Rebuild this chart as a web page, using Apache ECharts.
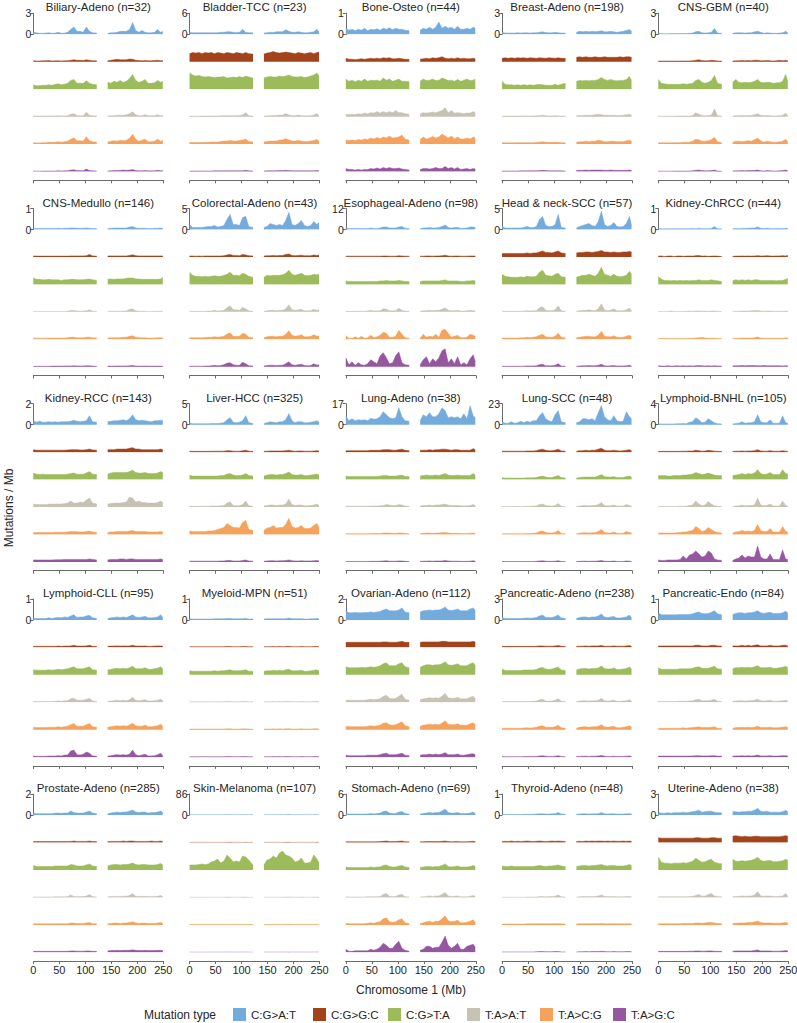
<!DOCTYPE html>
<html><head><meta charset="utf-8">
<script src="https://cdn.jsdelivr.net/npm/echarts@6/dist/echarts.min.js"></script>
<style>html,body{margin:0;padding:0;background:#fff}#c{width:797px;height:1023px}</style>
</head><body><div id="c"></div>
<script>
const MUTATION_TYPES = ['C:G>A:T','C:G>G:C','C:G>T:A','T:A>A:T','T:A>C:G','T:A>G:C'];
const COLORS = ['#74abdd','#a3431b','#9cbb5a','#c6c2b4','#f4a25c','#9457a0'];
// bin positions on chromosome 1 (Mb): p arm bins then q arm bins (centromere gap between)
const BIN_LEFT_MB = [0,6,12,18,24,30,36,42,48,54,60,66,72,78,84,90,96,102,108,114,122];
const BIN_RIGHT_MB = [143,149,155,161,167,173,179,185,191,197,203,209,215,221,227,233,239,245,249];
const X_TICKS = [0,50,100,150,200,250];
const PANEL_NAMES = ['Biliary-Adeno','Bladder-TCC','Bone-Osteo','Breast-Adeno','CNS-GBM','CNS-Medullo','Colorectal-Adeno','Esophageal-Adeno','Head & neck-SCC','Kidney-ChRCC','Kidney-RCC','Liver-HCC','Lung-Adeno','Lung-SCC','Lymphoid-BNHL','Lymphoid-CLL','Myeloid-MPN','Ovarian-Adeno','Pancreatic-Adeno','Pancreatic-Endo','Prostate-Adeno','Skin-Melanoma','Stomach-Adeno','Thyroid-Adeno','Uterine-Adeno'];
const PANEL_N = [32,23,44,198,40,146,43,98,57,44,143,325,38,48,105,95,51,112,238,84,285,107,69,48,38];
const PANEL_YMAX = [3,6,1,3,3,1,5,12,5,1,2,5,17,23,4,1,1,2,3,1,2,86,6,1,3];
// mutation rates in units of 0.01 mutations/Mb; one row per mutation type (order of MUTATION_TYPES);
// first 21 values = BIN_LEFT_MB, last 19 values = BIN_RIGHT_MB
const BILIARY_ADENO = [
[28,21,14,14,17,21,14,17,28,14,17,28,70,105,42,42,28,105,42,21,17, 14,21,21,28,42,42,42,70,168,56,28,56,28,21,21,28,70,28,42],
[14,11,11,14,14,17,11,14,14,11,14,14,21,28,21,21,17,28,21,14,14, 14,21,28,35,28,28,28,38,35,21,17,14,17,14,14,17,21,14,17],
[63,49,49,56,56,63,56,70,77,63,70,84,126,140,84,84,84,119,84,70,63, 98,84,112,98,126,98,112,154,210,126,98,112,140,84,84,91,126,98,112],
[11,8,8,10,10,11,10,11,14,11,11,14,35,42,17,14,14,63,21,14,11, 11,14,14,21,21,21,28,42,70,28,14,14,28,14,14,14,28,14,21],
[21,17,17,21,21,28,25,28,35,28,35,42,70,91,49,49,42,105,49,35,28, 28,42,49,42,56,49,56,84,140,70,42,56,70,35,35,42,70,42,56],
[7,6,6,7,7,8,7,8,11,8,10,11,21,25,14,14,11,35,14,10,8, 8,11,14,14,17,21,17,21,28,14,11,11,14,10,10,11,17,11,14]];
const BLADDER_TCC = [
[58,44,44,44,44,44,44,44,44,44,58,58,73,73,58,52,58,145,58,44,44, 35,44,58,52,73,73,73,131,87,58,58,73,58,44,44,58,73,145,58],
[232,261,247,261,232,261,247,261,232,261,247,232,261,247,232,261,247,232,261,232,218, 218,247,261,290,261,247,261,276,261,247,232,261,247,232,247,261,232,261,276],
[464,406,377,392,363,348,363,348,334,348,348,363,319,334,348,334,363,334,377,348,319, 319,348,363,348,348,377,363,377,406,363,348,348,363,334,348,377,406,464,377],
[17,15,15,15,17,17,17,20,20,20,23,23,29,29,29,29,35,44,116,23,20, 20,23,29,29,35,44,44,87,44,29,29,44,29,23,23,29,44,87,29],
[44,44,44,44,44,52,52,58,58,58,73,87,87,102,87,87,102,116,145,73,58, 58,73,87,87,87,116,116,160,116,87,87,102,87,73,73,87,102,131,87],
[15,15,15,15,15,17,17,17,20,20,23,23,23,23,23,23,23,26,35,20,17, 17,20,23,23,26,29,29,35,29,23,23,26,23,20,20,23,26,29,23]];
const BONE_OSTEO = [
[29,19,24,17,24,19,29,17,24,22,26,19,29,24,31,22,29,24,24,19,17, 19,29,24,34,24,34,58,29,38,29,34,24,38,24,24,29,24,34,29],
[17,12,12,10,12,14,12,14,17,14,17,14,19,17,19,14,14,17,14,12,12, 12,14,17,14,19,17,19,24,17,14,17,14,19,14,17,14,14,17,14],
[48,38,43,36,43,38,48,38,43,41,43,38,53,43,48,38,43,48,38,38,36, 38,48,41,43,48,41,43,53,48,41,43,38,46,38,43,48,41,43,48],
[10,10,12,10,14,12,17,14,19,17,24,17,24,19,24,19,29,19,19,14,12, 14,19,17,19,22,19,24,29,43,19,29,17,19,17,14,17,17,24,19],
[19,17,19,17,22,19,24,22,29,24,31,26,34,29,38,29,31,34,43,24,19, 22,34,24,29,36,29,34,48,38,29,38,26,34,24,24,29,24,34,29],
[14,10,10,7,10,7,10,10,14,12,17,12,19,14,19,14,14,17,12,10,7, 10,14,14,12,14,19,14,14,24,14,19,12,19,10,12,14,10,14,12]];
const BREAST_ADENO = [
[28,18,18,18,18,21,18,21,21,18,21,21,28,35,25,21,21,28,21,18,17, 28,42,35,42,35,42,35,42,49,35,35,42,35,28,35,42,56,70,42],
[49,56,49,56,49,56,53,56,49,56,53,49,56,53,49,56,53,49,56,49,49, 63,70,63,70,63,63,70,63,63,70,63,63,63,63,70,63,70,70,63],
[112,70,63,63,56,63,56,63,56,63,56,63,70,63,56,56,56,70,56,70,84, 112,126,119,126,119,126,126,140,168,140,126,140,126,119,126,126,140,182,126],
[8,8,8,8,8,10,10,10,11,11,11,14,14,21,14,11,11,14,11,10,8, 14,17,17,21,21,21,28,35,28,21,21,21,21,17,17,21,28,35,21],
[18,18,18,18,18,21,21,21,21,21,21,25,28,35,28,25,25,28,25,21,18, 28,35,35,42,35,42,42,56,49,35,35,42,42,35,35,35,49,56,42],
[8,8,8,8,8,8,10,10,11,11,11,11,14,17,14,11,11,11,11,10,8, 17,18,18,21,18,21,21,21,21,18,18,21,18,17,17,18,18,21,18]];
const CNS_GBM = [
[14,10,8,8,10,10,10,11,11,11,14,17,35,42,21,17,21,28,84,17,14, 14,21,21,21,17,21,21,35,42,28,14,21,17,14,14,17,21,42,21],
[11,10,10,10,10,10,10,11,11,11,11,14,21,28,17,14,14,21,17,11,11, 11,14,14,17,14,17,14,21,21,14,14,17,14,11,14,21,14,21,14],
[140,84,77,70,70,70,70,70,77,70,77,84,126,140,98,84,98,126,196,84,70, 98,140,98,91,98,91,98,112,140,98,91,98,98,84,91,91,112,210,112],
[7,7,7,7,7,7,8,8,10,10,11,17,56,35,17,14,17,21,112,14,8, 10,14,14,17,14,17,17,28,42,21,14,17,14,11,11,14,21,49,14],
[21,18,18,18,18,21,21,21,25,25,28,42,70,63,42,42,49,63,98,35,21, 28,42,42,35,42,49,42,63,84,49,28,42,35,28,28,35,42,70,35],
[7,6,6,6,6,7,7,7,7,7,8,11,17,21,14,11,11,14,21,8,7, 8,11,11,14,11,14,14,17,21,11,8,14,11,8,8,11,14,21,11]];
const CNS_MEDULLO = [
[6,5,5,5,5,5,5,5,6,5,6,6,7,7,6,6,6,7,6,5,5, 5,6,7,7,7,7,7,12,14,7,6,6,6,5,5,6,6,7,6],
[5,4,4,4,4,4,4,4,4,4,4,4,5,5,5,5,5,6,12,5,4, 5,5,5,5,5,5,5,7,10,6,5,5,5,5,5,5,5,5,5],
[31,24,24,22,22,24,22,22,22,19,22,22,24,24,22,22,22,24,26,22,19, 24,26,24,26,26,26,29,31,31,26,26,24,24,24,24,24,24,26,34],
[2,2,2,2,2,2,2,2,2,2,2,3,7,6,4,3,4,5,10,3,2, 2,3,3,3,3,4,4,12,14,5,3,3,3,2,2,3,3,3,3],
[6,5,5,5,5,6,6,6,6,6,6,7,10,10,7,7,7,10,10,7,6, 6,7,7,7,7,10,10,14,17,10,7,7,7,6,6,6,7,7,7],
[2,2,2,2,2,2,3,3,3,3,4,4,4,5,4,4,4,5,5,3,2, 3,3,3,4,4,4,4,5,6,4,3,3,4,3,3,3,3,3,3]];
const COLORECTAL_ADENO = [
[120,48,48,48,48,60,72,72,96,60,72,96,240,360,120,120,96,288,312,72,48, 48,72,144,120,96,120,96,216,408,120,96,144,216,96,72,96,192,120,168],
[24,24,19,24,19,24,24,24,24,24,24,29,48,60,36,36,29,60,48,29,24, 24,29,29,36,29,36,36,60,72,36,29,36,43,29,29,29,48,36,48],
[288,216,192,192,180,192,180,192,204,192,192,216,240,288,216,216,204,264,240,192,168, 168,216,204,216,216,216,228,264,336,240,216,240,264,216,204,216,240,228,240],
[14,12,12,12,12,14,19,19,36,19,24,36,96,144,48,48,36,108,72,24,14, 14,24,36,36,24,36,36,72,168,48,36,48,60,24,24,29,60,36,48],
[36,36,36,36,36,43,48,48,60,48,60,72,120,156,72,72,72,144,120,48,36, 36,60,72,72,60,72,72,120,204,96,72,84,108,60,60,72,108,72,84],
[17,14,14,14,14,17,19,24,36,24,29,48,84,96,48,36,36,108,72,24,17, 17,29,36,36,29,36,36,72,120,48,36,48,60,29,24,29,72,36,48]];
const ESOPHAGEAL_ADENO = [
[86,57,57,57,57,57,57,57,86,57,57,86,143,143,86,86,86,143,171,68,57, 57,86,86,114,86,86,114,171,257,114,86,114,114,68,68,86,143,143,114],
[46,46,46,46,46,46,46,46,46,46,46,46,57,57,46,46,46,68,57,46,46, 46,46,57,57,46,57,57,68,103,57,46,57,57,46,46,46,57,57,57],
[200,171,171,171,171,171,171,171,171,171,171,200,200,228,200,200,200,228,200,171,171, 171,200,200,200,200,200,200,228,257,200,200,200,200,171,171,200,200,228,200],
[34,29,29,29,29,34,34,46,86,46,57,68,171,143,68,57,68,200,86,46,34, 34,57,68,86,68,86,86,143,228,86,57,68,86,46,46,57,86,68,57],
[200,57,57,143,57,171,57,86,228,86,143,228,400,342,114,114,171,513,285,86,57, 68,285,114,171,143,285,114,513,570,342,114,171,228,86,86,114,285,228,171],
[513,114,285,86,228,114,86,171,400,285,171,627,798,513,171,228,627,855,228,114,86, 114,400,570,171,456,285,513,912,1026,228,456,171,570,114,228,114,456,684,285]];
const HEAD_NECK_SCC = [
[72,36,36,36,36,36,36,48,72,48,48,72,240,312,96,72,72,120,360,48,36, 36,72,96,120,144,96,72,192,432,120,72,96,168,72,60,72,144,312,96],
[84,84,84,84,84,84,84,84,96,84,96,96,120,144,108,108,96,120,144,96,84, 96,108,108,120,120,108,120,132,156,120,120,108,120,108,108,120,120,132,120],
[240,192,180,168,168,168,180,168,192,180,180,192,288,336,216,204,192,240,264,180,168, 168,192,216,216,240,216,192,264,408,240,216,192,240,192,180,192,216,312,240],
[17,14,14,14,14,14,14,19,29,19,24,29,96,120,36,29,29,48,144,24,17, 17,29,36,36,48,36,29,72,192,48,29,36,72,24,24,29,48,84,36],
[29,29,29,29,29,29,36,36,48,36,48,60,96,120,60,48,48,72,144,48,29, 36,48,60,72,72,60,60,96,192,72,60,60,84,48,43,48,72,96,60],
[12,12,12,12,12,12,14,14,19,19,19,24,48,60,24,24,24,36,72,19,14, 14,19,24,24,29,24,24,36,60,24,19,24,29,19,19,19,24,36,19]];
const KIDNEY_CHRCC = [
[5,3,3,4,3,4,3,4,4,3,4,5,4,6,4,4,4,5,14,4,3, 3,5,4,5,5,6,7,7,12,6,5,6,5,4,5,5,4,6,6],
[4,5,2,4,5,2,4,5,3,4,5,4,6,7,4,5,3,4,5,4,2, 3,4,4,5,4,5,4,5,6,5,5,6,5,4,5,5,6,5,7],
[38,24,19,19,17,19,17,19,17,19,17,19,19,22,19,19,19,22,19,17,14, 17,22,19,22,19,22,19,22,22,19,19,19,19,19,17,19,19,24,29],
[2,2,2,2,4,2,2,2,2,3,4,3,4,4,3,4,3,4,4,3,2, 2,3,3,4,4,4,5,6,7,4,3,4,4,3,3,3,3,4,4],
[4,4,4,4,4,4,4,4,4,4,5,5,6,7,9,6,5,5,5,4,4, 4,5,5,6,6,6,6,7,11,6,5,5,5,5,5,5,5,6,6],
[5,4,3,5,3,4,5,4,5,4,5,4,5,6,5,4,5,4,5,4,3, 4,5,5,6,5,6,6,6,5,5,6,5,5,5,5,5,4,5,5]];
const KIDNEY_RCC = [
[38,24,33,24,24,29,24,29,24,29,29,29,33,43,33,29,33,38,86,29,24, 29,33,38,38,43,48,38,57,95,48,38,43,38,33,29,38,38,43,38],
[24,19,19,19,19,19,19,19,19,19,19,21,24,24,24,21,21,24,29,21,19, 24,24,24,29,29,29,29,38,43,29,29,24,24,24,24,24,24,29,24],
[62,52,48,52,48,48,48,48,48,48,48,52,57,62,52,52,52,62,76,52,48, 52,62,67,67,67,67,67,76,90,67,62,62,67,57,57,57,62,76,67],
[29,24,24,24,24,29,29,29,29,29,33,38,57,38,38,48,43,67,86,38,29, 29,33,38,38,38,43,48,95,86,48,57,43,43,38,38,38,43,57,43],
[19,19,19,19,19,19,19,21,21,21,21,24,29,29,27,24,24,29,33,24,19, 19,24,24,29,29,29,29,33,38,29,29,29,29,24,24,24,24,29,24],
[19,19,19,19,19,19,19,21,21,21,24,24,24,24,24,24,24,24,29,24,19, 19,24,24,24,29,29,24,29,29,24,24,24,24,24,24,24,24,29,24]];
const LIVER_HCC = [
[48,24,24,24,24,24,24,29,29,29,36,48,120,168,60,48,60,96,216,48,29, 29,48,72,60,48,72,72,120,264,96,48,72,72,48,48,60,72,96,60],
[24,19,19,19,19,19,19,19,24,24,24,24,36,36,24,24,24,36,48,24,19, 19,24,29,29,29,29,29,36,48,29,24,29,29,24,24,24,29,36,29],
[108,84,84,84,84,84,84,84,84,84,96,96,132,144,108,96,96,108,144,96,84, 84,108,120,120,108,120,120,144,180,120,108,108,120,96,96,108,120,132,108],
[24,19,19,19,19,19,19,24,24,24,29,36,96,120,36,29,36,60,144,29,19, 24,36,48,48,36,48,48,72,192,60,36,48,48,29,29,36,48,72,36],
[84,72,72,72,72,72,84,84,96,120,144,168,264,216,168,168,156,288,336,120,96, 96,156,168,216,156,168,168,240,384,192,156,168,216,144,144,156,216,264,168],
[19,19,19,19,19,19,19,19,19,19,24,24,36,36,24,24,24,36,48,24,19, 19,24,29,29,24,29,29,36,48,29,24,24,29,24,24,24,29,36,24]];
const LUNG_ADENO = [
[729,324,486,324,405,365,405,324,527,446,486,648,1053,810,567,486,567,1377,648,324,284, 324,810,648,972,648,648,891,1377,1134,567,648,567,648,486,891,486,1539,729,567],
[122,122,122,122,122,122,122,122,146,146,146,162,203,203,203,162,162,203,243,146,122, 146,162,162,203,162,203,203,243,243,203,162,203,203,162,162,162,162,284,203],
[284,243,243,243,243,243,243,243,243,243,243,284,324,324,284,284,284,324,365,243,243, 284,324,365,324,324,365,324,405,486,365,324,324,365,324,324,324,324,486,365],
[81,65,65,65,65,65,65,65,81,81,81,97,122,203,162,122,122,203,162,81,65, 81,122,122,162,122,162,162,203,243,162,122,122,122,97,97,97,122,203,122],
[81,65,65,65,65,65,65,65,81,81,81,81,122,122,122,97,97,122,122,81,65, 81,97,122,122,97,122,122,146,162,122,97,97,97,81,81,81,97,122,81],
[41,41,41,41,41,41,41,41,49,49,49,65,81,97,65,65,65,81,81,49,41, 49,65,65,81,65,81,81,81,122,81,65,65,65,49,49,49,65,97,65]];
const LUNG_SCC = [
[330,165,165,330,165,220,385,220,385,275,440,440,990,1320,660,440,330,1100,1540,330,220, 220,330,660,660,550,660,440,1320,2090,880,550,440,990,440,330,385,1430,880,660],
[110,110,110,110,110,110,110,110,132,132,132,165,275,330,198,165,165,220,330,132,110, 110,165,165,220,165,220,220,330,440,220,165,165,220,165,132,165,220,275,165],
[198,165,165,165,165,165,165,165,198,198,198,220,330,385,275,220,220,330,440,220,165, 165,220,275,275,275,275,275,385,550,330,275,275,330,220,220,220,330,385,275],
[66,55,55,55,55,66,66,66,88,88,110,110,275,330,165,132,110,165,385,88,66, 66,110,165,165,132,165,165,275,495,165,132,132,220,110,110,110,275,165,110],
[88,88,88,88,88,88,88,88,110,110,132,165,330,385,220,165,165,220,440,110,88, 88,132,198,198,165,198,198,330,550,220,165,165,275,132,132,132,330,220,165],
[44,44,44,44,44,44,44,44,55,55,55,66,110,132,88,66,66,88,132,55,44, 44,66,88,88,66,88,88,110,165,88,66,66,110,55,55,55,110,88,66]];
const LYMPHOID_BNHL = [
[19,15,15,15,15,15,19,19,23,19,48,57,133,95,38,48,114,76,38,19,15, 15,23,29,57,29,38,38,57,190,57,38,38,95,29,29,29,171,38,29],
[15,15,15,15,15,15,15,15,19,19,23,23,38,29,19,23,34,29,19,15,15, 15,19,19,23,19,23,23,29,48,23,19,19,29,19,19,19,29,19,19],
[76,76,76,67,67,76,76,76,86,86,95,105,133,114,95,105,124,105,86,76,76, 76,86,95,114,95,114,105,124,190,114,95,105,133,95,95,95,190,114,105],
[11,11,11,11,11,11,11,15,15,15,29,38,114,57,29,38,105,57,23,15,11, 11,19,23,38,23,29,29,38,171,38,23,29,57,19,19,19,114,29,19],
[29,29,29,29,29,29,34,38,48,48,67,76,152,114,57,76,133,95,57,38,29, 29,48,57,76,57,67,57,76,190,76,57,57,114,48,48,48,152,57,48],
[38,29,29,38,38,38,38,48,114,57,133,152,209,152,95,114,209,171,57,38,29, 29,57,76,133,76,114,95,95,304,95,57,57,152,48,48,48,228,57,48]];
const LYMPHOID_CLL = [
[7,7,7,7,7,10,7,10,12,10,14,12,19,24,12,14,14,19,22,10,7, 7,10,12,14,12,14,12,17,24,14,12,14,17,10,10,12,14,24,12],
[5,5,5,5,5,5,5,5,6,5,6,6,7,10,6,6,6,7,10,5,5, 5,6,6,7,6,7,6,7,10,6,6,6,7,5,5,6,7,7,6],
[24,22,22,22,22,24,22,24,26,24,26,29,34,38,29,29,29,34,38,24,22, 22,26,29,31,29,31,29,34,41,29,29,29,34,26,26,29,31,38,29],
[4,4,4,4,4,4,4,5,6,5,7,7,17,19,10,10,10,14,19,6,4, 4,6,7,10,7,10,7,12,24,10,7,10,12,6,6,7,10,14,7],
[12,10,10,10,10,12,12,12,14,12,14,17,24,29,17,17,17,24,29,14,12, 12,14,17,19,17,19,17,22,31,19,17,17,22,14,14,17,19,26,17],
[5,4,4,4,4,5,5,5,7,6,10,10,29,34,12,10,14,24,19,6,5, 5,7,10,12,10,12,10,14,34,12,7,10,14,6,6,7,12,19,7]];
const MYELOID_MPN = [
[5,4,4,4,4,4,4,4,5,5,5,5,7,7,5,5,5,6,7,4,4, 4,5,5,6,5,6,5,6,9,6,5,5,6,4,4,5,6,7,5],
[3,3,3,3,3,3,3,3,3,3,3,3,4,4,3,3,3,4,4,3,3, 3,3,3,4,3,4,3,4,5,3,3,3,4,3,3,3,4,4,3],
[19,17,17,17,17,17,17,17,19,17,19,19,22,24,19,19,19,22,24,17,17, 17,19,19,22,19,22,19,24,26,19,19,19,22,17,17,19,22,24,19],
[2,2,2,2,2,2,2,2,2,2,2,2,3,3,2,2,2,3,3,2,2, 2,2,2,3,2,3,2,3,4,2,2,2,3,2,2,2,3,3,2],
[3,3,3,3,3,3,3,3,3,3,3,3,4,4,3,3,3,4,4,3,3, 3,3,3,4,3,4,3,4,5,3,3,3,4,3,3,3,4,4,3],
[2,2,2,2,2,2,2,2,2,2,2,2,3,3,2,2,2,3,3,2,2, 2,2,2,3,2,3,2,3,3,2,2,2,3,2,2,2,3,3,2]];
const OVARIAN_ADENO = [
[86,67,67,71,67,67,71,71,76,71,76,81,95,105,86,86,86,95,114,76,67, 76,86,90,95,90,95,95,105,124,95,90,95,105,86,86,86,105,114,90],
[48,48,48,48,48,48,48,48,48,48,48,48,52,52,48,48,48,52,57,48,48, 48,52,52,52,52,52,52,57,57,52,52,52,52,52,52,52,52,57,52],
[76,67,67,67,67,71,67,71,76,71,76,86,105,114,86,86,86,105,114,76,67, 71,86,95,95,90,95,95,105,124,95,90,95,105,86,86,86,105,114,90],
[19,19,19,19,19,19,19,24,29,24,29,33,57,67,38,33,38,57,76,29,19, 24,33,38,43,38,43,38,57,86,43,38,38,48,33,33,33,48,57,38],
[33,29,29,29,29,29,29,33,38,33,38,43,62,67,48,43,48,62,76,38,29, 33,43,48,52,48,52,48,62,86,52,48,48,57,43,43,43,57,67,48],
[19,14,14,14,14,14,14,19,19,19,19,24,33,38,24,24,24,29,38,19,14, 19,24,24,29,24,29,24,29,43,24,24,24,29,19,19,24,29,33,24]];
const PANCREATIC_ADENO = [
[35,21,21,21,21,21,21,25,28,25,28,35,56,70,35,35,35,49,70,28,21, 21,35,42,42,35,42,42,56,84,42,35,42,49,28,28,35,42,70,35],
[14,14,14,14,14,14,14,14,14,14,14,17,21,21,17,17,17,21,25,14,14, 14,17,17,21,17,21,21,21,28,17,17,17,21,17,17,17,21,25,17],
[84,63,63,63,63,63,63,70,70,70,70,77,98,105,84,77,84,98,112,70,63, 70,84,91,91,84,91,91,98,126,91,84,84,98,77,77,84,91,112,84],
[11,10,10,10,10,10,10,11,11,11,14,17,35,42,17,17,17,28,49,14,10, 11,17,21,21,17,21,21,28,56,21,17,21,28,14,14,17,21,35,17],
[21,21,21,21,21,21,21,25,28,25,28,35,49,56,35,35,35,42,63,28,21, 21,35,42,42,35,42,42,49,70,42,35,42,49,28,28,35,42,56,35],
[8,7,7,7,7,7,7,8,8,8,11,11,17,21,14,11,11,14,21,8,7, 8,11,14,14,11,14,14,17,25,14,11,11,14,8,8,11,14,17,11]];
const PANCREATIC_ENDO = [
[34,24,24,24,24,24,24,26,26,26,26,29,34,38,31,29,31,36,43,29,24, 26,31,34,34,31,34,34,38,43,34,31,34,36,31,31,31,34,41,34],
[7,7,7,7,7,7,7,7,7,7,7,7,10,10,7,7,7,10,10,7,7, 7,7,7,10,7,10,7,10,12,7,7,7,10,7,7,7,10,10,7],
[34,26,26,26,26,26,26,29,29,29,29,31,36,38,31,31,31,36,41,29,26, 29,34,34,36,34,36,34,38,43,34,34,34,36,31,31,34,36,41,34],
[5,4,4,4,4,4,4,5,5,5,6,7,12,14,7,7,7,10,14,5,4, 5,6,7,7,6,7,7,10,14,7,6,7,10,5,5,6,7,10,6],
[7,7,7,7,7,7,7,7,9,7,9,10,12,14,10,10,10,12,14,7,7, 7,10,10,12,10,12,10,12,17,10,10,10,12,9,9,10,12,14,10],
[5,5,5,5,5,5,5,5,5,5,5,6,7,7,6,6,6,7,7,5,5, 5,6,6,7,6,7,6,7,10,6,6,6,7,5,5,6,7,7,6]];
const PROSTATE_ADENO = [
[19,14,14,14,14,14,14,19,19,17,19,19,38,24,19,19,19,29,38,19,14, 14,19,24,29,24,29,29,38,48,29,24,29,29,19,24,24,29,38,24],
[10,10,10,10,10,10,10,10,10,10,10,10,11,14,11,11,11,11,14,10,10, 10,11,11,11,11,14,11,14,14,11,11,11,11,11,14,11,11,14,11],
[43,33,33,33,33,33,33,38,38,38,38,38,52,48,38,38,38,48,57,38,33, 38,48,52,52,48,52,52,57,67,52,48,52,52,48,48,48,52,62,48],
[5,5,5,5,5,5,5,6,6,6,6,8,24,10,8,8,8,14,29,8,5, 5,8,10,11,10,11,11,19,38,11,10,11,11,8,10,10,11,19,10],
[10,10,10,10,10,10,10,10,11,11,11,11,19,17,14,14,14,19,24,11,10, 10,14,17,17,14,17,19,24,29,19,14,17,17,14,14,14,17,24,14],
[10,10,10,10,10,10,10,10,10,10,10,11,14,14,11,11,11,14,14,10,10, 14,17,17,19,17,19,19,19,24,19,17,17,19,17,17,17,19,19,17]];
const SKIN_MELANOMA = [
[120,100,100,100,100,100,100,110,120,110,120,120,150,160,120,120,120,150,160,110,100, 100,120,130,140,130,140,140,160,200,140,130,130,150,120,120,120,150,160,130],
[60,60,60,60,60,60,60,60,60,60,60,60,70,80,60,60,60,70,80,60,60, 60,60,70,70,60,70,70,80,90,70,60,70,70,60,60,60,70,80,60],
[2050,2050,2050,2255,2460,2255,2460,3280,3690,4510,2870,3690,6150,4920,3280,3690,3280,5740,5330,4100,2050, 2050,4100,4510,5740,4920,6970,7790,6150,5740,4920,3280,3690,4920,2870,2870,3280,6150,4510,2870],
[100,90,90,90,90,90,90,100,110,100,110,110,140,150,110,110,110,140,150,100,90, 90,110,120,130,120,130,130,150,180,130,120,120,140,110,110,110,140,150,120],
[140,130,130,130,130,130,130,140,150,140,150,150,180,190,150,150,150,180,190,140,130, 130,150,160,170,160,170,170,190,220,170,160,160,180,150,150,150,180,190,160],
[70,60,60,60,60,60,60,70,70,70,70,70,90,90,70,70,70,90,90,70,60, 60,70,80,80,70,80,80,90,100,80,70,80,80,70,70,70,80,90,70]];
const STOMACH_ADENO = [
[44,29,29,29,29,29,29,35,44,35,44,58,102,116,58,44,44,87,102,44,29, 29,44,58,73,58,73,73,116,174,73,58,58,73,44,44,44,58,87,44],
[23,23,23,23,23,23,23,23,23,23,23,29,35,44,29,29,29,35,44,23,23, 23,23,29,29,29,29,29,35,44,29,23,29,29,23,23,23,29,35,29],
[87,73,73,73,73,73,73,73,87,73,87,87,131,145,102,87,87,116,131,87,73, 73,87,102,102,87,102,102,131,174,102,87,102,116,87,87,87,102,131,102],
[17,15,15,15,15,15,15,17,23,17,23,29,87,116,35,29,29,73,87,23,15, 15,23,29,44,29,44,44,87,145,44,29,35,44,23,23,23,35,58,29],
[44,35,35,35,35,35,35,44,58,44,73,87,174,203,87,73,87,145,174,58,35, 35,58,87,102,73,102,102,174,261,116,87,102,131,58,58,73,102,145,73],
[87,29,29,44,44,44,44,44,87,58,87,145,261,203,116,116,232,319,116,58,29, 58,87,174,174,116,145,145,290,464,203,116,174,261,87,87,174,203,232,145]];
const THYROID_ADENO = [
[5,3,3,3,3,3,3,4,4,4,4,5,6,6,5,5,6,7,12,5,4, 4,5,6,6,5,6,6,7,12,6,5,6,6,5,5,5,6,7,6],
[5,6,5,7,5,6,5,6,7,6,5,6,7,6,5,6,7,6,7,6,5, 5,6,5,7,6,7,6,7,7,6,7,6,7,6,6,7,6,7,6],
[19,17,17,19,17,17,17,17,17,17,17,19,22,19,17,19,19,22,24,19,17, 17,19,22,22,19,22,22,24,26,22,19,22,22,19,19,19,22,26,22],
[1,1,1,1,1,1,1,1,2,2,2,2,4,4,3,4,4,6,12,3,2, 2,3,4,4,4,5,5,7,12,5,4,4,4,3,3,3,4,5,3],
[4,4,4,4,4,4,4,4,5,5,5,5,6,6,5,5,5,6,6,5,4, 4,5,5,6,5,6,6,6,7,6,5,5,6,5,5,5,5,6,5],
[2,2,2,2,2,2,2,2,2,2,2,3,4,4,3,3,3,4,4,2,2, 2,3,3,4,3,4,4,4,5,4,3,3,4,3,3,3,4,4,3]];
const UTERINE_ADENO = [
[42,28,28,35,28,35,35,35,42,35,42,49,56,70,42,49,56,56,42,35,35, 49,49,42,49,49,56,56,70,98,56,49,56,42,42,42,42,49,70,49],
[70,63,63,63,63,63,63,63,63,63,63,63,70,70,63,63,63,70,70,63,63, 91,98,91,84,91,84,84,91,91,84,84,84,84,84,84,84,91,98,91],
[182,112,98,98,91,98,98,98,105,98,112,126,168,140,112,119,140,154,112,98,91, 154,126,126,133,126,133,140,154,182,140,126,133,140,119,119,126,133,154,140],
[11,10,10,10,10,10,10,11,11,11,14,17,28,42,17,21,42,56,21,14,10, 11,14,17,21,17,21,21,35,84,21,17,21,21,14,14,17,21,56,17],
[17,17,17,17,17,17,17,17,21,21,21,21,28,28,25,28,35,35,28,21,17, 21,25,28,28,28,35,35,42,56,35,28,28,28,25,25,25,28,35,28],
[14,14,14,14,14,14,14,14,14,14,17,17,21,21,17,17,21,21,17,14,14, 17,21,21,21,21,21,21,28,35,21,21,21,21,17,17,17,21,25,21]];

const PANELS = [BILIARY_ADENO,BLADDER_TCC,BONE_OSTEO,BREAST_ADENO,CNS_GBM,CNS_MEDULLO,COLORECTAL_ADENO,ESOPHAGEAL_ADENO,HEAD_NECK_SCC,KIDNEY_CHRCC,KIDNEY_RCC,LIVER_HCC,LUNG_ADENO,LUNG_SCC,LYMPHOID_BNHL,LYMPHOID_CLL,MYELOID_MPN,OVARIAN_ADENO,PANCREATIC_ADENO,PANCREATIC_ENDO,PROSTATE_ADENO,SKIN_MELANOMA,STOMACH_ADENO,THYROID_ADENO,UTERINE_ADENO];

// layout
const FONT = '"Liberation Sans", Arial, Helvetica, sans-serif';
const COL_X0 = 33.3, COL_STEP = 156.25, PLOT_W = 130;
const ROW_Y0 = 34.3, ROW_STEP = 195.2, TRACK_STEP = 27.45, TRACK_H = 21, AXIS_OFFSET = 146;
const AXIS_COLOR = '#6b6b6b', TEXT_COLOR = '#262626';

const grid = [], xAxis = [], yAxis = [], series = [], graphic = [];
PANEL_NAMES.forEach((name, p) => {
  const r = Math.floor(p / 5), c = p % 5;
  const x0 = COL_X0 + c * COL_STEP;
  const base0 = ROW_Y0 + r * ROW_STEP;
  const ymax = PANEL_YMAX[p];
  graphic.push({type: 'text', x: x0 + PLOT_W / 2, y: base0 - 27, silent: true,
    style: {text: name + ' (n=' + PANEL_N[p] + ')', font: '11.5px ' + FONT, fill: TEXT_COLOR, textAlign: 'center', textVerticalAlign: 'middle', align: 'center', verticalAlign: 'middle'}});
  for (let k = 0; k < 6; k++) {
    const gi = grid.length;
    const baseY = base0 + k * TRACK_STEP;
    grid.push({left: x0, top: baseY - TRACK_H, width: PLOT_W, height: TRACK_H, containLabel: false, outerBoundsMode: 'none'});
    xAxis.push({type: 'value', gridIndex: gi, min: 0, max: 250, show: false});
    yAxis.push({type: 'value', gridIndex: gi, min: 0, max: ymax, interval: ymax, show: k === 0,
      axisLine: {show: true, lineStyle: {color: AXIS_COLOR, width: 1}},
      axisTick: {show: true, length: 3, lineStyle: {color: AXIS_COLOR}},
      axisLabel: {show: true, fontSize: 10.5, color: TEXT_COLOR, margin: 2, fontFamily: FONT},
      splitLine: {show: false}});
    const vals = PANELS[p][k];
    const nL = BIN_LEFT_MB.length;
    const left = BIN_LEFT_MB.map((mb, i) => [mb, vals[i] / 100]);
    const right = BIN_RIGHT_MB.map((mb, i) => [mb, vals[nL + i] / 100]);
    [left, right].forEach(d => series.push({
      type: 'line', name: MUTATION_TYPES[k], xAxisIndex: gi, yAxisIndex: gi, data: d,
      symbol: 'none', silent: true, animation: false,
      lineStyle: {width: 0.5, color: COLORS[k]}, itemStyle: {color: COLORS[k]},
      areaStyle: {color: COLORS[k], opacity: 1}
    }));
  }
  // chromosome position axis under each panel
  const gi = grid.length;
  const axisY = base0 + AXIS_OFFSET;
  grid.push({left: x0, top: axisY - 4, width: PLOT_W, height: 4, containLabel: false, outerBoundsMode: 'none'});
  xAxis.push({type: 'value', gridIndex: gi, min: X_TICKS[0], max: X_TICKS[X_TICKS.length - 1], interval: X_TICKS[1] - X_TICKS[0],
    position: 'bottom',
    axisLine: {show: true, lineStyle: {color: AXIS_COLOR, width: 1}},
    axisTick: {show: true, length: 3, lineStyle: {color: AXIS_COLOR}},
    axisLabel: {show: r === 4, fontSize: 11, color: TEXT_COLOR, margin: 3, fontFamily: FONT},
    splitLine: {show: false}});
  yAxis.push({type: 'value', gridIndex: gi, min: 0, max: 1, show: false});
});

graphic.push({type: 'text', x: 411, y: 990, silent: true,
  style: {text: 'Chromosome 1 (Mb)', font: '12px ' + FONT, fill: TEXT_COLOR, textAlign: 'center', textVerticalAlign: 'middle', align: 'center', verticalAlign: 'middle'}});
graphic.push({type: 'text', x: 9, y: 508, rotation: Math.PI / 2, silent: true,
  style: {text: 'Mutations / Mb', font: '12px ' + FONT, fill: TEXT_COLOR, textAlign: 'center', textVerticalAlign: 'middle', align: 'center', verticalAlign: 'middle'}});
graphic.push({type: 'text', x: 144, y: 1015, silent: true,
  style: {text: 'Mutation type', font: '12px ' + FONT, fill: TEXT_COLOR, textAlign: 'left', textVerticalAlign: 'middle', align: 'left', verticalAlign: 'middle'}});

const LEGEND_X = [233, 313, 388, 467, 540, 613];
const legend = MUTATION_TYPES.map((t, i) => ({
  data: [t], left: LEGEND_X[i], top: 1008, orient: 'horizontal', icon: 'rect', itemWidth: 13, itemHeight: 13,
  selectedMode: false, padding: 0, textStyle: {fontSize: 11.5, color: TEXT_COLOR, fontFamily: FONT}
}));

const chart = echarts.init(document.getElementById('c'), null, {renderer: 'svg', width: 797, height: 1023});
chart.setOption({
  animation: false,
  backgroundColor: '#ffffff',
  textStyle: {fontFamily: FONT},
  grid, xAxis, yAxis, series, graphic, legend,
  tooltip: {show: false}
});
</script>
</body></html>
